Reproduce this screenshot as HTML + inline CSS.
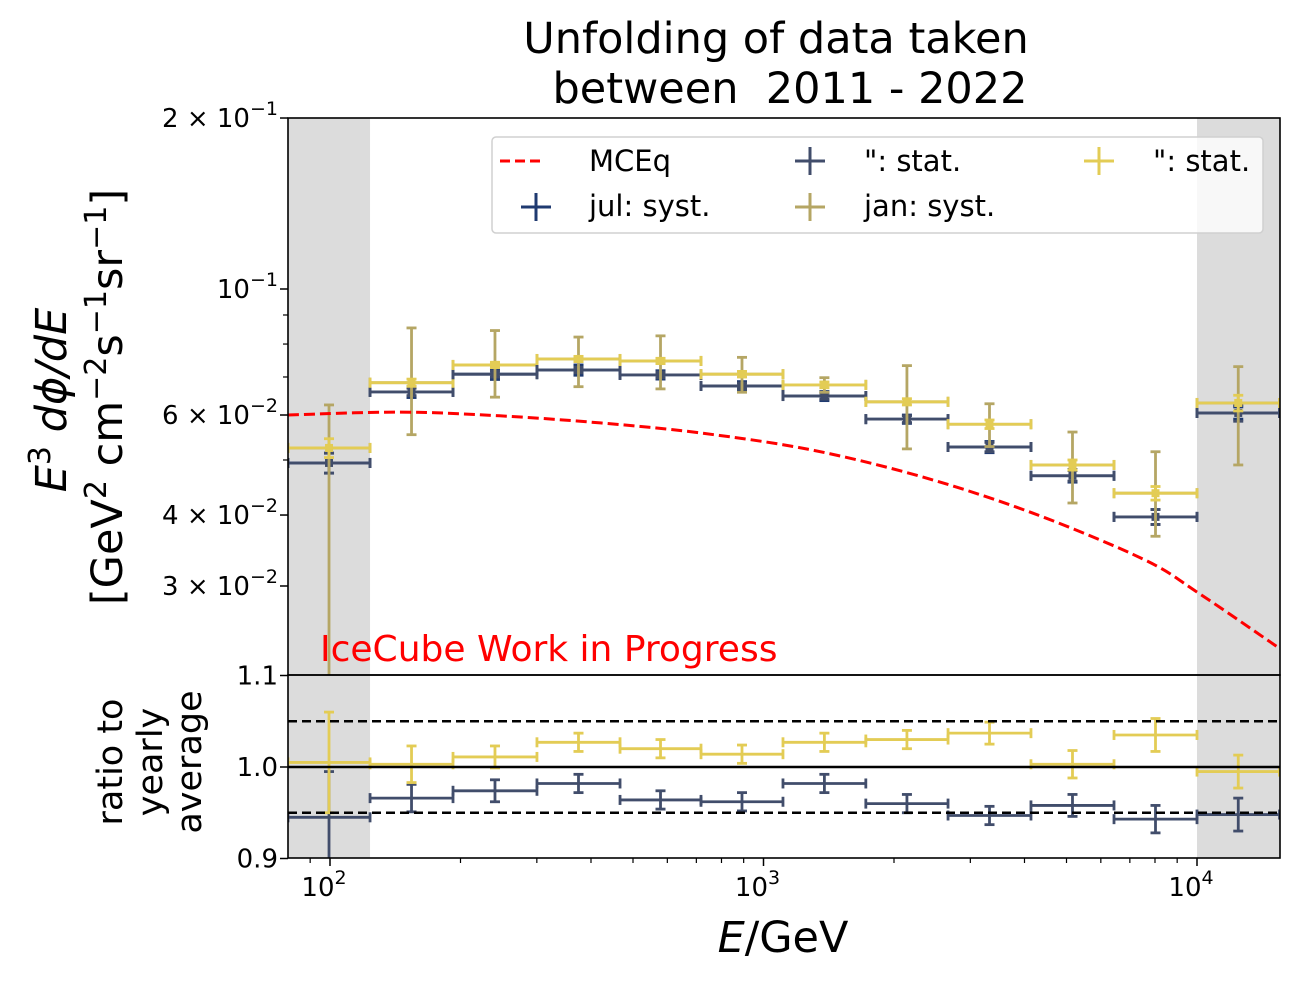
<!DOCTYPE html>
<html><head><meta charset="utf-8"><style>
html,body{margin:0;padding:0;background:#fff;}
svg{display:block;font-family:"DejaVu Sans","Liberation Sans",sans-serif;}
</style></head><body>
<svg id="chart" width="1300" height="984" viewBox="0 0 1300 984" xmlns="http://www.w3.org/2000/svg">
<text x="776" y="53" font-size="43" text-anchor="middle">Unfolding of data taken</text>
<text x="790" y="103" font-size="43" text-anchor="middle" xml:space="preserve">between  2011 - 2022</text>
<g id="topg"></g>
<g id="botg"></g>
</svg>
<script>
// ---- data ----
const binEdges = [80, 123.7, 192.2, 300.2, 466.7, 717.5, 1109, 1722, 2665, 4140, 6435, 10000, 15500];
const julFlux = [0.0494, 0.0659, 0.0708, 0.0720, 0.0706, 0.0675, 0.0648, 0.0590, 0.0527, 0.0469, 0.0397, 0.0605];
const julSyst = [0.002, 0.0015, 0.0015, 0.0015, 0.0012, 0.0012, 0.0012, 0.0010, 0.0012, 0.0012, 0.0012, 0.0015];
const julStat = [0.002, 0.0010, 0.0008, 0.0008, 0.0008, 0.0008, 0.0008, 0.0008, 0.0010, 0.0010, 0.0012, 0.0020];
const janFlux = [0.0525, 0.0684, 0.0735, 0.0753, 0.0747, 0.0708, 0.0678, 0.0633, 0.0578, 0.0490, 0.0437, 0.0630];
const janSystUp = [0.010, 0.017, 0.011, 0.007, 0.008, 0.005, 0.002, 0.010, 0.005, 0.007, 0.008, 0.010];
const janSystDn = [0.032, 0.013, 0.009, 0.008, 0.008, 0.005, 0.002, 0.011, 0.005, 0.007, 0.007, 0.014];
const janStat = [0.002, 0.0010, 0.0008, 0.0008, 0.0008, 0.0008, 0.0008, 0.0008, 0.0010, 0.0010, 0.0012, 0.0020];
const julRatio = [0.945, 0.966, 0.974, 0.982, 0.964, 0.962, 0.982, 0.960, 0.947, 0.958, 0.943, 0.948];
const julRatioErr = [0.05, 0.015, 0.012, 0.010, 0.010, 0.010, 0.010, 0.010, 0.010, 0.012, 0.015, 0.018];
const janRatio = [1.005, 1.003, 1.011, 1.027, 1.020, 1.014, 1.027, 1.030, 1.037, 1.003, 1.035, 0.995];
const janRatioErr = [0.055, 0.020, 0.012, 0.010, 0.010, 0.010, 0.010, 0.010, 0.012, 0.015, 0.018, 0.018];
const mceqE = [80, 145, 246, 420, 714, 1287, 2321, 4185, 7546, 10054, 15500];
const mceqFlux = [0.0600, 0.0607, 0.0598, 0.0581, 0.0558, 0.0521, 0.0467, 0.0403, 0.0334, 0.0292, 0.0233];
const yTickVals = [0.2, 0.1, 0.06, 0.04, 0.03];
const yTickLabels = [["2","-1",true], ["10","-1",false], ["6","-2",true], ["4","-2",true], ["3","-2",true]];
const rTicks = [1.1, 1.0, 0.9];
// ---- axes ----
const X0=288,X1=1280,T0=118,T1=675,B0=675,B1=858;
const xs = e => 330 + (Math.log10(e)-2)*433.5;
const ys = v => 289 - (Math.log10(v)+1)*568;
const yr = r => 767 - (r-1)*915;
const NS="http://www.w3.org/2000/svg";
function mk(tag, attrs, parent, txt){const el=document.createElementNS(NS,tag);for(const k in attrs)el.setAttribute(k,attrs[k]);if(txt!==undefined)el.textContent=txt;parent.appendChild(el);return el;}
const gTop=document.getElementById('topg'), gBot=document.getElementById('botg');
[[T0,T1],[B0,B1]].forEach(([a,b])=>{
  let r1=mk('rect',{x:X0,y:a,width:xs(binEdges[1])-X0,height:b-a,fill:'#dcdcdc'},gTop);
  
  
  let r2=mk('rect',{x:xs(binEdges[11]),y:a,width:X1-xs(binEdges[11]),height:b-a,fill:'#dcdcdc'},gTop);
  
  
});
const defs=mk('defs',{},gTop);
const cp=mk('clipPath',{id:'cT'},defs);mk('rect',{x:X0,y:T0,width:X1-X0,height:T1-T0},cp);
const cp2=mk('clipPath',{id:'cB'},defs);mk('rect',{x:X0,y:B0,width:X1-X0,height:B1-B0},cp2);
const gT=mk('g',{'clip-path':'url(#cT)'},gTop), gB=mk('g',{'clip-path':'url(#cB)'},gBot);
function ebar(g,i,yc,ylo,yhi,col,w,name,marker){
  const xa=xs(binEdges[i]),xb=xs(binEdges[i+1]),xc=(xa+xb)/2;
  const grp=mk('g',{stroke:col,'stroke-width':w},g);
  
  
  mk('line',{x1:xa,x2:xb,y1:yc,y2:yc},grp);
  mk('line',{x1:xc,x2:xc,y1:ylo,y2:yhi},grp);
  mk('line',{x1:xa,x2:xa,y1:yc-5,y2:yc+5},grp);
  mk('line',{x1:xb,x2:xb,y1:yc-5,y2:yc+5},grp);
  mk('line',{x1:xc-5,x2:xc+5,y1:ylo,y2:ylo},grp);
  mk('line',{x1:xc-5,x2:xc+5,y1:yhi,y2:yhi},grp);
  if(marker) mk('rect',{x:xc-3.5,y:yc-3.5,width:7,height:7,fill:col,'stroke-width':1},grp);
}
for(let i=0;i<12;i++){
  ebar(gT,i,ys(julFlux[i]),ys(julFlux[i]-julSyst[i]),ys(julFlux[i]+julSyst[i]),'#1f3a70',2.8,'jul-syst',false);
  ebar(gT,i,ys(julFlux[i]),ys(julFlux[i]-julStat[i]),ys(julFlux[i]+julStat[i]),'#414d6b',2.8,'jul-stat',true);
  ebar(gT,i,ys(janFlux[i]),ys(janFlux[i]-janSystDn[i]),ys(janFlux[i]+janSystUp[i]),'#b5a664',2.8,'jan-syst',false);
  ebar(gT,i,ys(janFlux[i]),ys(janFlux[i]-janStat[i]),ys(janFlux[i]+janStat[i]),'#e3cc55',2.8,'jan-stat',true);
  ebar(gB,i,yr(julRatio[i]),yr(julRatio[i]-julRatioErr[i]),yr(julRatio[i]+julRatioErr[i]),'#414d6b',2.8,'jul-ratio',false);
  ebar(gB,i,yr(janRatio[i]),yr(janRatio[i]-janRatioErr[i]),yr(janRatio[i]+janRatioErr[i]),'#e3cc55',2.8,'jan-ratio',false);
}
const P=mceqE.map((e,i)=>[xs(e),ys(mceqFlux[i])]);
let d='M'+P[0][0].toFixed(1)+','+P[0][1].toFixed(1);
for(let i=0;i<P.length-1;i++){
  const p0=P[Math.max(0,i-1)],p1=P[i],p2=P[i+1],p3=P[Math.min(P.length-1,i+2)];
  const c1=[p1[0]+(p2[0]-p0[0])/6,p1[1]+(p2[1]-p0[1])/6],c2=[p2[0]-(p3[0]-p1[0])/6,p2[1]-(p3[1]-p1[1])/6];
  d+=' C'+c1.map(v=>v.toFixed(1)).join(',')+' '+c2.map(v=>v.toFixed(1)).join(',')+' '+p2.map(v=>v.toFixed(1)).join(',');
}
const mc=mk('path',{d:d,fill:'none',stroke:'#ff0000','stroke-width':3,'stroke-dasharray':'11,5'},gT);


[[1.0,'none',2.5,'ratio-one-line'],[1.05,'9,5',2.5,'ratio-upper-band'],[0.95,'9,5',2.5,'ratio-lower-band']].forEach(([v,da,w,n])=>{
  const l=mk('line',{x1:X0,x2:X1,y1:yr(v),y2:yr(v),stroke:'#000','stroke-width':w,'stroke-dasharray':da},gBot);
  
  
});
const f1=mk('rect',{x:X0,y:T0,width:X1-X0,height:T1-T0,fill:'none',stroke:'#000','stroke-width':1.6},gTop);


const f2=mk('rect',{x:X0,y:B0,width:X1-X0,height:B1-B0,fill:'none',stroke:'#000','stroke-width':1.6},gBot);


yTickVals.forEach((v,i)=>{
  const y=ys(v);
  mk('line',{x1:X0-8,x2:X0,y1:y,y2:y,stroke:'#000','stroke-width':1.5},gTop);
  const [m,e,withM]=yTickLabels[i];
  const t=mk('text',{x:X0-10,y:y+9,'font-size':26,'text-anchor':'end','xml:space':'preserve'},gTop);
  
  
  if(withM) mk('tspan',{},t,m+' \u00d7 ');
  mk('tspan',{},t,'10');
  mk('tspan',{dy:-12,'font-size':19},t,'\u2212'+e.slice(1));
});
[0.05,0.07,0.08,0.09].forEach(v=>mk('line',{x1:X0-5,x2:X0,y1:ys(v),y2:ys(v),stroke:'#000','stroke-width':1.2},gTop));
rTicks.forEach(v=>{
  mk('line',{x1:X0-8,x2:X0,y1:yr(v),y2:yr(v),stroke:'#000','stroke-width':1.5},gBot);
  const t=mk('text',{x:X0-10,y:yr(v)+9,'font-size':26,'text-anchor':'end'},gBot,v.toFixed(1));
  
  
});
[100,1000,10000].forEach((e,i)=>{
  const x=xs(e);
  mk('line',{x1:x,x2:x,y1:B1,y2:B1+8,stroke:'#000','stroke-width':1.5},gBot);
  const t=mk('text',{x:x-6,y:B1+38,'font-size':26,'text-anchor':'middle'},gBot);
  
  
  mk('tspan',{},t,'10');
  mk('tspan',{dy:-12,'font-size':19},t,String(i+2));
});
for(let dec=10;dec<=10000;dec*=10)for(let k=2;k<=9;k++){const e=dec*k;const x=xs(e);if(x>X0&&x<X1)mk('line',{x1:x,x2:x,y1:B1,y2:B1+5,stroke:'#000','stroke-width':1.2},gBot);}
</script>
<svg style="position:absolute;left:0;top:0" width="1300" height="984" xmlns="http://www.w3.org/2000/svg" font-family="DejaVu Sans, Liberation Sans, sans-serif">
<text x="320" y="661" font-size="36" fill="#ff0000">IceCube Work in Progress</text>
<text x="783" y="952" font-size="43" text-anchor="middle"><tspan font-style="italic">E</tspan>/GeV</text>
<g font-size="43" text-anchor="middle">
<text transform="translate(66,400) rotate(-90)"><tspan font-style="italic">E</tspan><tspan dy="-16" font-size="30">3</tspan><tspan dy="16"> </tspan><tspan font-style="italic">dϕ/dE</tspan></text>
<text transform="translate(122,397) rotate(-90)">[GeV<tspan dy="-16" font-size="30">2</tspan><tspan dy="16"> cm</tspan><tspan dy="-16" font-size="30">−2</tspan><tspan dy="16">s</tspan><tspan dy="-16" font-size="30">−1</tspan><tspan dy="16">sr</tspan><tspan dy="-16" font-size="30">−1</tspan><tspan dy="16">]</tspan></text>
</g>
<g font-size="35" text-anchor="middle">
<text transform="translate(122,762) rotate(-90)">ratio to</text>
<text transform="translate(162,762) rotate(-90)">yearly</text>
<text transform="translate(201,762) rotate(-90)">average</text>
</g>
<g>
<rect x="492" y="137" width="771" height="96" rx="4" fill="#ffffff" fill-opacity="0.8" stroke="#d0d0d0" stroke-width="1.5"/>
<line x1="500" x2="540" y1="161" y2="161" stroke="#ff0000" stroke-width="3" stroke-dasharray="10,5"/>
<text x="589" y="171" font-size="29">MCEq</text>
<g stroke="#1f3a70" stroke-width="3"><line x1="521" x2="551" y1="207" y2="207"/><line x1="536" x2="536" y1="193" y2="221"/></g>
<text x="589" y="216" font-size="29">jul: syst.</text>
<g stroke="#414d6b" stroke-width="3"><line x1="795" x2="825" y1="161" y2="161"/><line x1="810" x2="810" y1="147" y2="175"/></g>
<text x="864" y="171" font-size="29">": stat.</text>
<g stroke="#b5a664" stroke-width="3"><line x1="795" x2="825" y1="207" y2="207"/><line x1="810" x2="810" y1="193" y2="221"/></g>
<text x="864" y="216" font-size="29">jan: syst.</text>
<g stroke="#e3cc55" stroke-width="3"><line x1="1084" x2="1114" y1="161" y2="161"/><line x1="1099" x2="1099" y1="147" y2="175"/></g>
<text x="1153" y="171" font-size="29">": stat.</text>
</g>
</svg>
</body></html>
